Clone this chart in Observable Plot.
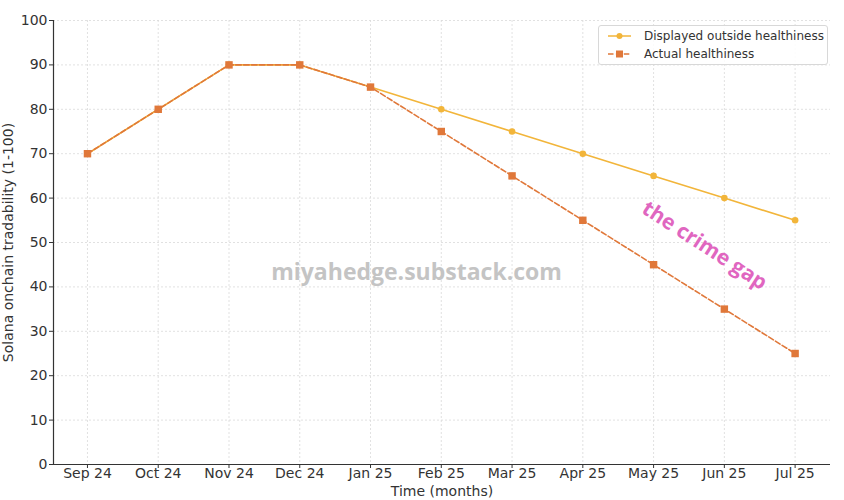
<!DOCTYPE html>
<html>
<head>
<meta charset="utf-8">
<script src="https://cdn.jsdelivr.net/npm/d3@7"></script>
<script src="https://cdn.jsdelivr.net/npm/@observablehq/plot@0.6"></script>
<style>
  body { margin: 0; background: #fff; }
  #wrap { position: relative; width: 844px; height: 500px; font-family: "DejaVu Sans", sans-serif; }
  #legend { position: absolute; left: 598px; top: 25px; width: 230px; height: 40px; box-sizing: border-box;
    border: 1px solid #d8d8d8; border-radius: 3px; background: rgba(255,255,255,0.85); font-size: 12px; color: #333; }
  .item { position: absolute; left: 8px; height: 14px; display: flex; align-items: center; }
  .item span { margin-left: 12px; }
</style>
</head>
<body>
<div id="wrap"><div id="chart"></div>
<div id="legend">
  <div class="item" style="top:3px"><svg width="25" height="14"><line x1="1" y1="7" x2="24" y2="7" stroke="#f2b53a" stroke-width="1.5"/><circle cx="12.5" cy="7" r="3" fill="#f2b53a"/></svg><span>Displayed outside healthiness</span></div>
  <div class="item" style="top:21px"><svg width="25" height="14"><line x1="1" y1="7" x2="24" y2="7" stroke="#e0783a" stroke-width="1.5" stroke-dasharray="5.5,2.4"/><rect x="9" y="3.5" width="7" height="7" fill="#e0783a"/></svg><span>Actual healthiness</span></div>
</div>
</div>
<script>
const months = ["Sep 24","Oct 24","Nov 24","Dec 24","Jan 25","Feb 25","Mar 25","Apr 25","May 25","Jun 25","Jul 25"];
const displayed = [70,80,90,90,85,80,75,70,65,60,55];
const actual = [70,80,90,90,85,75,65,55,45,35,25];
const yTicks = [0,10,20,30,40,50,60,70,80,90,100];

const dispData = months.map((m,i) => ({i, v: displayed[i]}));
const actData = months.map((m,i) => ({i, v: actual[i]}));
const idx = months.map((m,i) => i);

const yellow = "#f2b53a", orange = "#e0783a";

const chart = Plot.plot({
  width: 844, height: 500,
  marginLeft: 53, marginRight: 14, marginTop: 20, marginBottom: 36,
  style: {fontFamily: "DejaVu Sans, sans-serif", fontSize: "14px", color: "#333", background: "#fff"},
  x: {domain: [-0.48, 10.5], label: null},
  y: {domain: [0, 100], label: null},
  marks: [
    Plot.ruleY(yTicks.slice(1), {stroke: "#d9d9d9", strokeDasharray: "2,2", strokeWidth: 0.8}),
    Plot.ruleX(idx, {stroke: "#d9d9d9", strokeDasharray: "2,2", strokeWidth: 0.8}),
    Plot.text(["miyahedge.substack.com"], {x: 4.65, y: 43.2, text: d => d, fill: "#c4c4c4", fontSize: 23, fontWeight: "bold", fontFamily: "Open Sans, sans-serif"}),
    Plot.line(dispData, {x: "i", y: "v", stroke: yellow, strokeWidth: 1.6}),
    Plot.dot(dispData, {x: "i", y: "v", fill: yellow, r: 3.3, symbol: "circle"}),
    Plot.line(actData, {x: "i", y: "v", stroke: orange, strokeWidth: 1.6, strokeDasharray: "5.5,2.4"}),
    Plot.dot(actData, {x: "i", y: "v", fill: orange, r: 4.2, symbol: "square"}),
    Plot.text(["the crime gap"], {x: 8.72, y: 49.3, text: d => d, fill: "#e066c0", fontSize: 21, fontWeight: "bold", rotate: 33, fontFamily: "Open Sans, sans-serif"}),
    Plot.ruleY([0], {stroke: "#333", strokeWidth: 1.2}),
    Plot.ruleX([-0.48], {stroke: "#333", strokeWidth: 1.2}),
    Plot.axisX({ticks: idx, tickFormat: i => months[i], tickSize: 4, tickPadding: 0, fontSize: 14, label: null}),
    Plot.axisY({ticks: yTicks, tickSize: 4, tickPadding: 2, fontSize: 14, label: null}),
    Plot.text(["Time (months)"], {frameAnchor: "bottom", dy: 31, text: d => d, fontSize: 14, fill: "#333"}),
    Plot.text(["Solana onchain tradability (1-100)"], {frameAnchor: "left", dx: -45, rotate: -90, textAnchor: "middle", text: d => d, fontSize: 14, fill: "#333"})
  ]
});
document.getElementById("chart").appendChild(chart);
</script>
</body>
</html>
